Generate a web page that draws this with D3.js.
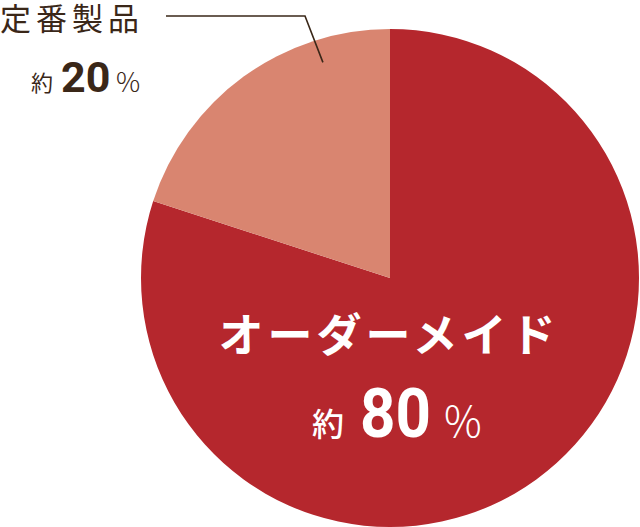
<!DOCTYPE html>
<html>
<head>
<meta charset="utf-8">
<script src="https://d3js.org/d3.v7.min.js"></script>
<style>
  body { margin: 0; background: #fff; }
  text { font-family: "Noto Sans CJK JP", "Noto Sans", sans-serif; }
  .num { font-family: Roboto, "Noto Sans", sans-serif; font-weight: 700; }
</style>
</head>
<body>
<svg id="pie" width="640" height="527"></svg>
<script>
// data
const categories = ["オーダーメイド", "定番製品"];
const shares = [80, 20];
const colors = ["#b5272d", "#d98570"];

const svg = d3.select("#pie");
const cx = 390, cy = 278, radius = 249;
const ink = "#3a2718";

const pie = d3.pie().sort(null).value(d => d.value);
const arcs = pie(categories.map((c, i) => ({ name: c, value: shares[i] })));
const arc = d3.arc().innerRadius(0).outerRadius(radius);

const chart = svg.append("g").attr("transform", `translate(${cx},${cy})`);
chart.selectAll("path.slice")
  .data(arcs)
  .join("path")
  .attr("class", "slice")
  .attr("d", arc)
  .attr("fill", (d, i) => colors[i]);

// leader line for the small slice, ends inside it
const small = arcs[1];
const a = small.startAngle + (small.endAngle - small.startAngle) * 0.76;
const lx = cx + radius * 0.907 * Math.sin(a);
const ly = cy - radius * 0.907 * Math.cos(a);
svg.append("polyline")
  .attr("points", [[166, 16], [305, 16], [lx, ly]].map(p => p.join(",")).join(" "))
  .attr("fill", "none")
  .attr("stroke", ink)
  .attr("stroke-width", 1.6);

// label of small slice
svg.append("text")
  .attr("x", 0).attr("y", 30)
  .attr("font-size", 31).attr("font-weight", 400)
  .attr("letter-spacing", 5)
  .attr("fill", ink)
  .text(categories[1]);

const sLab = svg.append("g").attr("fill", ink);
sLab.append("text").attr("x", 31).attr("y", 91).attr("font-size", 22).attr("font-weight", 400).text("約");
sLab.append("text").attr("class", "num").attr("x", 61).attr("y", 92).attr("font-size", 43).text(shares[1]);
sLab.append("text").attr("x", 116).attr("y", 92).attr("font-size", 27).attr("font-weight", 300)
  .attr("font-family", "Roboto, sans-serif").text("%");

// label of big slice
svg.append("text")
  .attr("x", 389).attr("y", 352)
  .attr("text-anchor", "middle")
  .attr("font-size", 45).attr("font-weight", 700)
  .attr("letter-spacing", 4)
  .attr("fill", "#fff")
  .text(categories[0]);

const bLab = svg.append("g").attr("fill", "#fff");
bLab.append("text").attr("x", 312).attr("y", 436).attr("font-size", 32).attr("font-weight", 500).text("約");
bLab.append("text").attr("class", "num").attr("x", 360).attr("y", 437).attr("font-size", 68)
  .attr("textLength", 71).attr("lengthAdjust", "spacingAndGlyphs").text(shares[0]);
bLab.append("text").attr("x", 444).attr("y", 437).attr("font-size", 42).attr("font-weight", 300)
  .attr("font-family", "Roboto, sans-serif").text("%");
</script>
</body>
</html>
